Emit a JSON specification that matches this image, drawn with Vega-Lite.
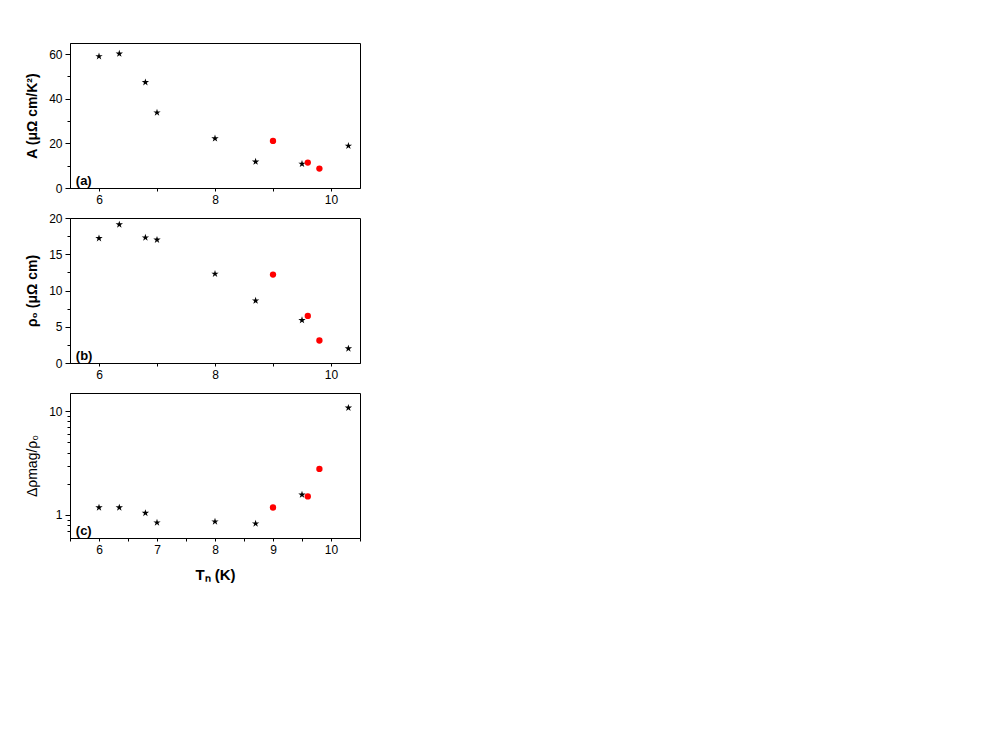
{
  "$schema": "https://vega.github.io/schema/vega-lite/v6.json",
  "padding": {"left": 25, "top": 42, "right": 5, "bottom": 5},
  "background": "white",
  "bounds": "flush",
  "spacing": 30,
  "config": {
    "view": {"stroke": "black", "strokeWidth": 1},
    "font": "Liberation Sans",
    "axis": {
      "grid": false,
      "domainColor": "black",
      "tickColor": "black",
      "labelColor": "black",
      "titleColor": "black",
      "labelFont": "Liberation Sans",
      "titleFont": "Liberation Sans",
      "labelFontSize": 12,
      "titleFontSize": 14,
      "labelPadding": 3,
      "labelOverlap": false,
      "labelFlush": false
    }
  },
  "datasets": {
    "d": [
      {"T": 6.0, "A": 59.0, "rho0": 17.2, "drho": 1.18, "type": "star"},
      {"T": 6.35, "A": 60.2, "rho0": 19.1, "drho": 1.18, "type": "star"},
      {"T": 6.8, "A": 47.4, "rho0": 17.3, "drho": 1.045, "type": "star"},
      {"T": 7.0, "A": 33.8, "rho0": 17.0, "drho": 0.845, "type": "star"},
      {"T": 8.0, "A": 22.2, "rho0": 12.3, "drho": 0.863, "type": "star"},
      {"T": 8.7, "A": 11.8, "rho0": 8.6, "drho": 0.826, "type": "star"},
      {"T": 9.5, "A": 10.8, "rho0": 5.9, "drho": 1.57, "type": "star"},
      {"T": 10.3, "A": 18.9, "rho0": 2.0, "drho": 10.8, "type": "star"},
      {"T": 9.0, "A": 21.1, "rho0": 12.2, "drho": 1.18, "type": "circle"},
      {"T": 9.6, "A": 11.4, "rho0": 6.5, "drho": 1.51, "type": "circle"},
      {"T": 9.8, "A": 8.7, "rho0": 3.1, "drho": 2.78, "type": "circle"}
    ]
  },
  "vconcat": [
    {
      "width": 290,
      "height": 145,
      "data": {"name": "d"},
      "layer": [
        {
          "mark": {"type": "point", "filled": true, "opacity": 1},
          "encoding": {
            "x": {"field": "T", "type": "quantitative",
              "scale": {"domain": [5.5, 10.5], "nice": false, "zero": false},
              "axis": {"values": [6, 7, 8, 9, 10], "tickCount": 60, "labelOverlap": false,
                "labelExpr": "datum.value % 2 == 0 ? format(datum.value, 'd') : ''",
                "title": null, "tickSize": 3}},
            "y": {"field": "A", "type": "quantitative",
              "scale": {"domain": [0, 65], "nice": false},
              "axis": {"values": [0, 10, 20, 30, 40, 50, 60], "tickCount": 60, "labelOverlap": false,
                "labelExpr": "datum.value % 20 == 0 ? format(datum.value, 'd') : ''",
                "tickSize": {"condition": {"test": "datum.value % 20 == 0", "value": 5}, "value": 3},
                "title": "A (μΩ cm/K²)", "titleFontWeight": "bold", "titlePadding": 9}},
            "shape": {"field": "type", "type": "nominal", "scale": {"domain": ["star", "circle"], "range": ["M0,-1L0.2245,-0.309L0.951,-0.309L0.363,0.118L0.588,0.809L0,0.382L-0.588,0.809L-0.363,0.118L-0.951,-0.309L-0.2245,-0.309Z", "circle"]}, "legend": null},
            "color": {"field": "type", "type": "nominal", "scale": {"domain": ["star", "circle"], "range": ["black", "#ff0000"]}, "legend": null},
            "size": {"field": "type", "type": "ordinal", "scale": {"domain": ["star", "circle"], "range": [60, 40]}, "legend": null}
          }
        },
        {
          "data": {"values": [{"label": "(a)"}]},
          "mark": {"type": "text", "align": "left", "baseline": "bottom", "fontWeight": "bold", "fontSize": 13},
          "encoding": {
            "x": {"datum": 5.6, "type": "quantitative"},
            "y": {"datum": 0, "type": "quantitative"},
            "text": {"field": "label"}
          }
        }
      ]
    },
    {
      "width": 290,
      "height": 145,
      "data": {"name": "d"},
      "layer": [
        {
          "mark": {"type": "point", "filled": true, "opacity": 1},
          "encoding": {
            "x": {"field": "T", "type": "quantitative",
              "scale": {"domain": [5.5, 10.5], "nice": false, "zero": false},
              "axis": {"values": [6, 7, 8, 9, 10], "tickCount": 60, "labelOverlap": false,
                "labelExpr": "datum.value % 2 == 0 ? format(datum.value, 'd') : ''",
                "title": null, "tickSize": 3}},
            "y": {"field": "rho0", "type": "quantitative",
              "scale": {"domain": [0, 20], "nice": false},
              "axis": {"values": [0, 2.5, 5, 7.5, 10, 12.5, 15, 17.5, 20], "tickCount": 60, "labelOverlap": false,
                "labelExpr": "datum.value % 5 == 0 ? format(datum.value, 'd') : ''",
                "tickSize": {"condition": {"test": "datum.value % 5 == 0", "value": 5}, "value": 3},
                "title": "ρ₀ (μΩ cm)", "titleFontWeight": "bold", "titlePadding": 9}},
            "shape": {"field": "type", "type": "nominal", "scale": {"domain": ["star", "circle"], "range": ["M0,-1L0.2245,-0.309L0.951,-0.309L0.363,0.118L0.588,0.809L0,0.382L-0.588,0.809L-0.363,0.118L-0.951,-0.309L-0.2245,-0.309Z", "circle"]}, "legend": null},
            "color": {"field": "type", "type": "nominal", "scale": {"domain": ["star", "circle"], "range": ["black", "#ff0000"]}, "legend": null},
            "size": {"field": "type", "type": "ordinal", "scale": {"domain": ["star", "circle"], "range": [60, 40]}, "legend": null}
          }
        },
        {
          "data": {"values": [{"label": "(b)"}]},
          "mark": {"type": "text", "align": "left", "baseline": "bottom", "fontWeight": "bold", "fontSize": 13},
          "encoding": {
            "x": {"datum": 5.6, "type": "quantitative"},
            "y": {"datum": 0, "type": "quantitative"},
            "text": {"field": "label"}
          }
        }
      ]
    },
    {
      "width": 290,
      "height": 145,
      "data": {"name": "d"},
      "layer": [
        {
          "mark": {"type": "point", "filled": true, "opacity": 1},
          "encoding": {
            "x": {"field": "T", "type": "quantitative",
              "scale": {"domain": [5.5, 10.5], "nice": false, "zero": false},
              "axis": {"values": [5.5, 6, 6.5, 7, 7.5, 8, 8.5, 9, 9.5, 10, 10.5], "tickCount": 60, "labelOverlap": false,
                "labelExpr": "datum.value % 1 == 0 ? format(datum.value, 'd') : ''",
                "title": "Tₙ (K)", "titleFontSize": 15, "titleFontWeight": "bold", "titlePadding": 12, "tickSize": 3}},
            "y": {"field": "drho", "type": "quantitative",
              "scale": {"type": "log", "domain": [0.6, 15], "nice": false},
              "axis": {"values": [0.7, 0.8, 0.9, 1, 2, 3, 4, 5, 6, 7, 8, 9, 10], "tickCount": 60, "labelOverlap": false,
                "labelExpr": "datum.value == 1 ? '1' : (datum.value == 10 ? '10' : '')",
                "tickSize": {"condition": {"test": "datum.value == 1 || datum.value == 10", "value": 5}, "value": 3},
                "title": "Δρmag/ρ₀", "titleFontWeight": "normal", "titlePadding": 9}},
            "shape": {"field": "type", "type": "nominal", "scale": {"domain": ["star", "circle"], "range": ["M0,-1L0.2245,-0.309L0.951,-0.309L0.363,0.118L0.588,0.809L0,0.382L-0.588,0.809L-0.363,0.118L-0.951,-0.309L-0.2245,-0.309Z", "circle"]}, "legend": null},
            "color": {"field": "type", "type": "nominal", "scale": {"domain": ["star", "circle"], "range": ["black", "#ff0000"]}, "legend": null},
            "size": {"field": "type", "type": "ordinal", "scale": {"domain": ["star", "circle"], "range": [60, 40]}, "legend": null}
          }
        },
        {
          "data": {"values": [{"label": "(c)"}]},
          "mark": {"type": "text", "align": "left", "baseline": "bottom", "fontWeight": "bold", "fontSize": 13},
          "encoding": {
            "x": {"datum": 5.6, "type": "quantitative"},
            "y": {"datum": 0.6, "type": "quantitative"},
            "text": {"field": "label"}
          }
        }
      ]
    }
  ]
}
